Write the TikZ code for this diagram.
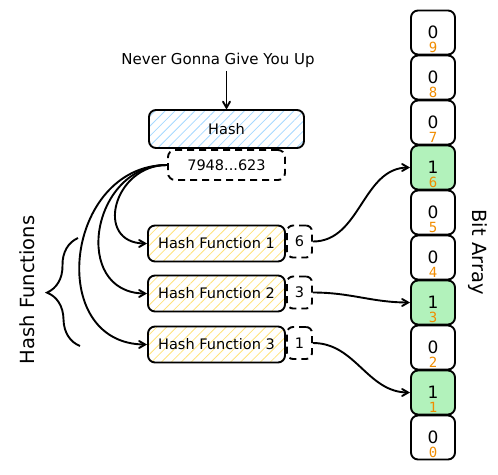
\documentclass[tikz,border=0pt]{standalone}
\usepackage{fontspec}
\setmainfont{DejaVu Sans}
\newfontfamily\idxfont{DejaVu Sans Mono}
\usetikzlibrary{positioning, arrows, patterns.meta, decorations.pathreplacing}
\definecolor{hashblue}{HTML}{A5D8FF}
\definecolor{fnyellow}{HTML}{FFE27A}
\definecolor{setgreen}{HTML}{B2F2BB}
\definecolor{idxorange}{HTML}{F08C00}
\tikzset{
    x=1pt, y=-1pt,
    >=angle 60,
    node distance=45pt,
    box/.style={draw, line width=1.9pt, rounded corners=7pt, inner sep=0pt, font=\fontsize{14.5}{16}\selectfont},
    result/.style={box, dash pattern=on 7pt off 5pt, rounded corners=6pt, minimum width=25pt, minimum height=32pt},
    hashbox/.style={box, pattern={Lines[angle=45,distance=7pt,line width=.8pt]}, pattern color=hashblue, minimum width=155pt, minimum height=38pt},
    fnbox/.style={box, pattern={Lines[angle=45,distance=7pt,line width=.8pt]}, pattern color=fnyellow, minimum width=137pt, minimum height=36pt},
    bit/.style={on grid, box, minimum width=44pt, minimum height=44pt, font=\fontsize{17}{19}\selectfont, label={[idx]below:#1}},
    setbit/.style={bit=#1, fill=setgreen},
    idx/.style={text=idxorange, font=\idxfont\fontsize{14}{14}\selectfont, inner sep=0pt, label distance=-13.5pt},
    link/.style={->, line width=1.9pt},
    caption/.style={font=\fontsize{19.5}{21}\selectfont},
}

\begin{document}
\begin{tikzpicture}
    \useasboundingbox (0,0) rectangle (498,474);

    % input and hash
    \node[font=\fontsize{15}{17}\selectfont] (src) at (218,60) {Never Gonna Give You Up};
    \node[hashbox] (hash) at (226.5,129) {Hash};
    \node[box, dash pattern=on 7pt off 5pt, minimum width=117pt, minimum height=30pt] (hval) at (226.5,165) {7948...623};

    % hash functions
    \node[fnbox] (hf1) at (216.5,243.5) {Hash Function 1};
    \node[fnbox] (hf2) at (216.5,293.5) {Hash Function 2};
    \node[fnbox] (hf3) at (216.5,344.5) {Hash Function 3};

    \node[result] (r6) at (299.5,241.5) {6};
    \node[result] (r3) at (299.5,292.5) {3};
    \node[result] (r1) at (299.5,343) {1};

    % bit array
    \node[bit=9] (b9) at (433,32.5) {0};
    \node[bit=8, below=of b9] (b8) {0};
    \node[bit=7, below=of b8] (b7) {0};
    \node[setbit=6, below=of b7] (b6) {1};
    \node[bit=5, below=of b6] (b5) {0};
    \node[bit=4, below=of b5] (b4) {0};
    \node[setbit=3, below=of b4] (b3) {1};
    \node[bit=2, below=of b3] (b2) {0};
    \node[setbit=1, below=of b2] (b1) {1};
    \node[bit=0, below=of b1] (b0) {0};

    \node[caption, rotate=90] (fnlabel) at (27,290) {Hash Functions};
    \node[caption, rotate=-90] (arrlabel) at (478,252) {Bit Array};

    \coordinate (brbot) at (80,346);
    \coordinate (brtop) at (78,238);
    \draw[decorate, decoration={brace, amplitude=32pt}, line width=1.9pt] (brbot) -- (brtop);

    \path[link]
        (src.south -| hash.north) edge (hash.north)
        (hval.west) edge[out=180, in=180, looseness=1.7] (hf1.west)
            edge[out=180, in=180, looseness=1.5] (hf2.west)
            edge[out=180, in=180, looseness=1.45] (hf3.west)
        (r6.east) edge[out=0, in=180] (b6.west)
        (r3.east) edge[out=0, in=180] (b3.west)
        (r1.east) edge[out=0, in=180] (b1.west);
\end{tikzpicture}
\end{document}
